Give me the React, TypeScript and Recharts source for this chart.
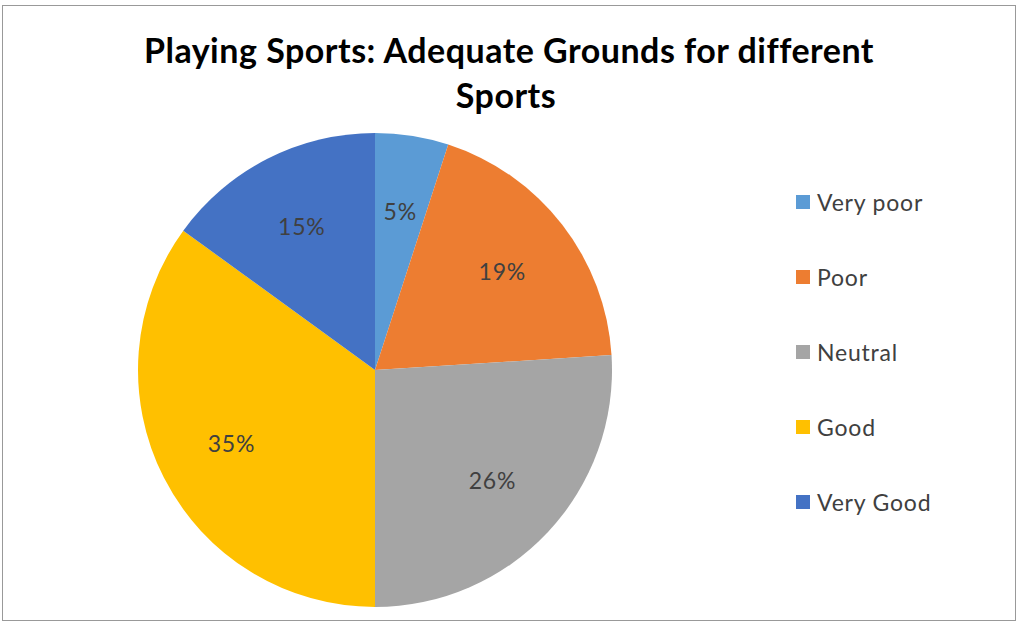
import React from 'react';
import { PieChart, Pie, Cell, Legend } from 'recharts';

// Pie chart: how adequate the grounds are for playing sports

const categories = ['Very poor', 'Poor', 'Neutral', 'Good', 'Very Good'];
const shares = [5, 19, 26, 35, 15];
const colors = ['#5B9BD5', '#ED7D31', '#A5A5A5', '#FFC000', '#4472C4'];

const data = categories.map((name, i) => ({ name, value: shares[i] }));

const FONT = 'Lato, "Open Sans", sans-serif';
const RAD = Math.PI / 180;

const renderLabel = (props: any) => {
  const { cx, cy, midAngle, outerRadius, value } = props;
  const r = outerRadius * 0.68;
  const x = cx + r * Math.cos(-midAngle * RAD);
  const y = cy + r * Math.sin(-midAngle * RAD);
  return (
    <text
      x={x} y={y} fill="#404040" fontSize={23} letterSpacing={0.8} fontFamily={FONT}
      textAnchor="middle" dominantBaseline="central"
    >
      {`${value}%`}
    </text>
  );
};

const renderLegend = () => (
  <div style={{ fontFamily: FONT, fontSize: 23, letterSpacing: 0.8, color: '#404040' }}>
    {categories.map((name, i) => (
      <div key={name} style={{ display: 'flex', alignItems: 'center', height: 75 }}>
        <span style={{ width: 14, height: 14, background: colors[i], marginRight: 7, display: 'inline-block' }} />
        {name}
      </div>
    ))}
  </div>
);

export default function App() {
  return (
    <div style={{ position: 'absolute', left: 0, top: 0, width: 1018, height: 623, background: '#fff' }}>
      <div style={{ position: 'absolute', left: 2, top: 5, width: 1012, height: 614, border: '1px solid #999' }} />
      <div
        style={{
          position: 'absolute', left: 0, top: 27, width: 1018, textAlign: 'center',
          fontFamily: FONT, fontWeight: 700, fontSize: 34, letterSpacing: 0.5, lineHeight: '45px', color: '#000',
        }}
      >
        <div>Playing Sports: Adequate Grounds for different</div>
        <div style={{ paddingRight: 6 }}>Sports</div>
      </div>
      <div style={{ position: 'absolute', left: 0, top: 0 }}>
        <PieChart width={1018} height={623} margin={{ top: 0, right: 0, bottom: 0, left: 0 }}>
          <Pie
            data={data}
            dataKey="value"
            nameKey="name"
            cx={375}
            cy={370}
            outerRadius={237}
            startAngle={90}
            endAngle={-270}
            stroke="none"
            label={renderLabel}
            labelLine={false}
            isAnimationActive={false}
          >
            {data.map((d, i) => (
              <Cell key={d.name} fill={colors[i]} />
            ))}
          </Pie>
          <Legend
            layout="vertical"
            align="right"
            verticalAlign="top"
            content={renderLegend}
            wrapperStyle={{ left: 796, top: 164, width: 210 }}
          />
        </PieChart>
      </div>
    </div>
  );
}
